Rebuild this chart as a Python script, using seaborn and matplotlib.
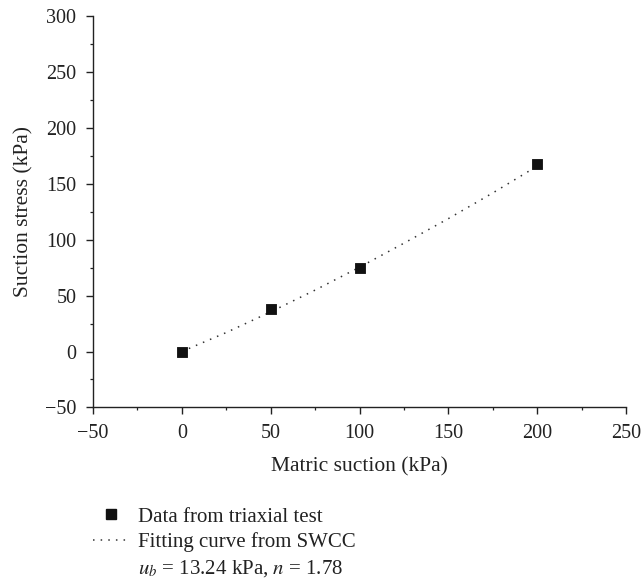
import numpy as np
import pandas as pd
import matplotlib.pyplot as plt
import seaborn as sns
from matplotlib.ticker import MultipleLocator
from matplotlib.lines import Line2D

# measured points
suction = [0, 50, 100, 200]
stress = [0, 38.5, 74.5, 167.5]

# fitting curve
fit_x = [0, 25, 50, 75, 100, 125, 150, 175, 200]
fit_y = [0, 17, 35.5, 55, 75.5, 97, 119, 142, 166]

sns.set_style("ticks")
plt.rcParams['font.family'] = ['Liberation Serif', 'DejaVu Serif']
plt.rcParams['mathtext.fontset'] = 'stix'

fig = plt.figure(figsize=(6.41, 5.82), dpi=100)
ax = fig.add_axes([0.145, 0.3, 0.832, 0.672])

dots = (0, (1, 4))
sns.lineplot(x=fit_x, y=fit_y, ax=ax, color="#333333", linestyle=dots,
             linewidth=1.1)
sns.scatterplot(x=suction, y=stress, ax=ax, marker="s", s=60, color="#111111",
                edgecolor="#111111", zorder=3)

ax.set_xlim(-50, 250)
ax.set_ylim(-50, 300)
ax.xaxis.set_major_locator(MultipleLocator(50))
ax.xaxis.set_minor_locator(MultipleLocator(25))
ax.yaxis.set_major_locator(MultipleLocator(50))
ax.yaxis.set_minor_locator(MultipleLocator(25))
ax.tick_params(which="major", length=5, width=1.0, labelsize=14.5,
               color="#222222", labelcolor="#222222", pad=7)
ax.tick_params(which="minor", length=2.5, width=0.9, color="#222222")
ax.set_xticklabels([f"{int(v)}".replace("-", "\u2212") for v in ax.get_xticks()])
ax.set_yticklabels([f"{int(v)}".replace("-", "\u2212") for v in ax.get_yticks()])
for s in ["left", "bottom"]:
    ax.spines[s].set_linewidth(1.0)
    ax.spines[s].set_color("#222222")
sns.despine(ax=ax)

ax.set_xlabel("Matric suction (kPa)", fontsize=15.5, labelpad=10, color="#222222")
ax.set_ylabel("Suction stress (kPa)", fontsize=15.5, labelpad=8.5, color="#222222")

handles = [
    Line2D([], [], marker="s", linestyle="none", color="#111111", markersize=7),
    Line2D([], [], linestyle=dots, color="#333333", linewidth=1.1),
    Line2D([], [], linestyle="none"),
]
labels = ["Data from triaxial test", "Fitting curve from SWCC",
          "$u_b$ = 13.24 kPa, $n$ = 1.78"]
fig.legend(handles, labels, loc="upper left", bbox_to_anchor=(0.145, 0.129),
           frameon=False, fontsize=15, handlelength=1.7, handletextpad=0.45,
           labelspacing=0.29, borderpad=0, borderaxespad=0,
           labelcolor="#222222")

fig.savefig("out.png", dpi=100)
